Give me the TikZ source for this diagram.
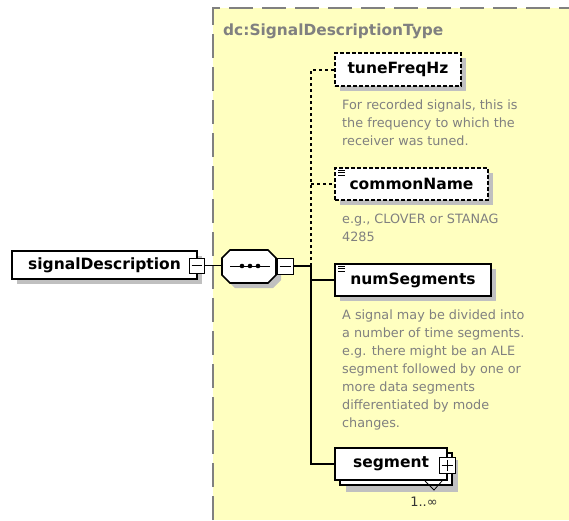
\documentclass[tikz,border=0pt]{standalone}
\usepackage{fontspec}
\setmainfont{DejaVu Sans}
\usetikzlibrary{shadows}
\definecolor{bgyellow}{RGB}{255,255,192}
\definecolor{shadowgray}{RGB}{192,192,192}
\definecolor{anngray}{RGB}{128,128,128}
\begin{document}
\begin{tikzpicture}[x=1pt,y=-1pt,
  elem/.style={draw=black, line width=1.6pt, fill=white, inner sep=0pt,
    font=\fontsize{15.5}{18}\selectfont\bfseries,
    general shadow={shadow xshift=5pt, shadow yshift=-5pt, fill=shadowgray}},
  optelem/.style={elem, dash pattern=on 4pt off 2pt},
  pmbox/.style={draw=black, line width=1pt, fill=white, minimum width=15pt, minimum height=15pt, inner sep=0pt},
  conn/.style={line width=1.2pt},
  dconn/.style={line width=1.2pt, dash pattern=on 3pt off 3pt},
  ann/.style={anchor=base west, inner sep=0pt, align=left, text=anngray,
    font=\fontsize{12.8}{18}\selectfont},
  simpleicon/.style={line width=0.8pt}
]
\useasboundingbox (0,0) rectangle (569,520);
% type region
\fill[bgyellow] (213,8) rectangle (569,520);
\draw[anngray, line width=1.2pt, dash pattern=on 24pt off 9pt] (213,520) -- (213,8) -- (569,8);
\node[anchor=west, inner sep=0pt, text=anngray, font=\fontsize{15.4}{18}\selectfont\bfseries] (title) at (223,31) {dc:SignalDescriptionType};

% root element
\node[elem, minimum width=185pt, minimum height=28pt] (sd) at (104.5,265) {signalDescription};
\node[pmbox] (sdminus) at (196.5,265.5) {};
\draw[line width=1pt] ([xshift=3pt]sdminus.west) -- ([xshift=-3pt]sdminus.east);

% sequence compositor
\fill[shadowgray] (235,255) -- (273,255) -- (281,263) -- (281,280) -- (273,288) -- (235,288) -- (227,280) -- (227,263) -- cycle;
\draw[line width=1.6pt, fill=white] (230,250) -- (268,250) -- (276,258) -- (276,275) -- (268,283) -- (230,283) -- (222,275) -- (222,258) -- cycle;
\node[minimum width=54pt, minimum height=33pt, inner sep=0pt] (seq) at (249,266.5) {};
\draw[line width=1pt] (230,266) -- (270,266);
\fill (242,266) circle (2.3pt) (250,266) circle (2.3pt) (258,266) circle (2.3pt);
\node[pmbox, minimum width=16pt, minimum height=16pt] (seqminus) at (285,266) {};
\draw[line width=1pt] ([xshift=3pt]seqminus.west) -- ([xshift=-3pt]seqminus.east);

\draw[conn] (sdminus.east) -- (seq.west |- sdminus.east);

% children
\node[optelem, minimum width=126pt, minimum height=33pt] (tune) at (398,69.5) {tuneFreqHz};
\node[optelem, minimum width=153pt, minimum height=32pt] (common) at (411.5,184) {commonName};
\node[elem, minimum width=156pt, minimum height=32pt] (nums) at (413,280) {numSegments};

% segment (stacked)
\node[draw=black, line width=1.6pt, fill=white, minimum width=112pt, minimum height=32pt, inner sep=0pt,
  general shadow={shadow xshift=6pt, shadow yshift=-7pt, fill=shadowgray}] (segback) at (396,469) {};
\node[draw=black, line width=1.6pt, fill=white, minimum width=112pt, minimum height=32pt, inner sep=0pt,
  font=\fontsize{15.5}{18}\selectfont\bfseries] (seg) at (391,464) {segment};
\node[pmbox, minimum width=16pt, minimum height=16pt] (segplus) at (447,465) {};
\draw[line width=1pt] ([xshift=3pt]segplus.west) -- ([xshift=-3pt]segplus.east)
  ([yshift=3pt]segplus.south) -- ([yshift=-3pt]segplus.north);
\draw[line width=0.8pt] (425,481) -- (434,490) -- (442,481);
\node[inner sep=0pt, font=\fontsize{13}{16}\selectfont, text=black!80] (segocc) at (424,502) {1..∞};

% simple-type icons
\draw[simpleicon] (338,170) -- (345,170) (338,172.5) -- (345,172.5) (338,175) -- (345,175);
\draw[simpleicon] (338,266) -- (345,266) (338,268.5) -- (345,268.5) (338,271) -- (345,271);

% connectors
\coordinate (j) at (311,266);
\coordinate (jtune) at (311,70);
\coordinate (jcommon) at (311,184);
\coordinate (jnums) at (311,280);
\coordinate (jseg) at (311,464);
\draw[conn] (seqminus.east) -- (j);
\draw[dconn] (j) -- (jtune) -- (tune.west |- jtune);
\draw[dconn] (jcommon) -- (common.west |- jcommon);
\draw[conn] (j) -- (jseg) -- (seg.west |- jseg);
\draw[conn] (jnums) -- (nums.west |- jnums);

% annotations (base anchor = last line's baseline)
\node[ann] (tuneann) at (342,145) {For recorded signals, this is\\the frequency to which the\\receiver was tuned.};
\node[ann] (commonann) at (342,241) {e.g., CLOVER or STANAG\\4285};
\node[ann] (numsann) at (342,427) {A signal may be divided into\\a number of time segments.\\e.g. there might be an ALE\\segment followed by one or\\more data segments\\differentiated by mode\\changes.};
\end{tikzpicture}
\end{document}
